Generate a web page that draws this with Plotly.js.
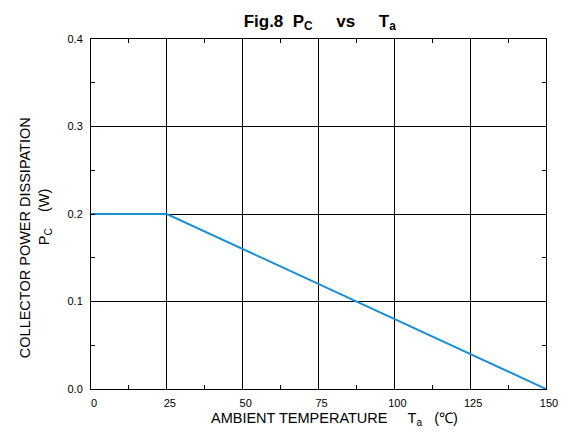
<!DOCTYPE html>
<html>
<head>
<meta charset="utf-8">
<script src="https://cdn.plot.ly/plotly-3.0.1.min.js"></script>
<style>body{margin:0;background:#fff}#chart{width:571px;height:432px}</style>
</head>
<body>
<div id="chart"></div>
<script>
const temperature = [0, 25, 150];
const powerDissipation = [0.2, 0.2, 0.0];
const xTicks = [0, 25, 50, 75, 100, 125, 150];
const yTicks = [0.0, 0.1, 0.2, 0.3, 0.4];
const yTickLabels = ['0.0', '0.1', '0.2', '0.3', '0.4'];

const nb = '\u00a0';
const font = 'Arial, "Liberation Sans", sans-serif';

Plotly.newPlot('chart', [{
  x: temperature,
  y: powerDissipation,
  mode: 'lines',
  line: {color: '#1a90d4', width: 2},
  hoverinfo: 'skip'
}], {
  width: 571, height: 432,
  margin: {l: 91, r: 25, t: 39, b: 43},
  paper_bgcolor: '#fff', plot_bgcolor: '#fff',
  showlegend: false,
  font: {family: font, color: '#000', size: 11},
  title: {
    text: '<b>Fig.8' + nb + nb + 'P<sub>C</sub>' + nb.repeat(5) + 'vs' + nb.repeat(5) + 'T<sub>a</sub></b>',
    font: {family: font, size: 17, color: '#000'},
    x: 0.56, xanchor: 'center', y: 0.952, yanchor: 'middle'
  },
  xaxis: {
    range: [0, 150], tickvals: xTicks, ticktext: xTicks.map(String),
    showgrid: true, gridcolor: '#000', gridwidth: 1,
    showline: true, linecolor: '#000', linewidth: 1, mirror: 'allticks',
    ticks: 'inside', ticklen: 0, tickcolor: '#000',
    minor: {dtick: 12.5, tick0: 0, ticks: 'inside', ticklen: 4, tickcolor: '#000', showgrid: false},
    zeroline: false, fixedrange: true,
    tickfont: {size: 11, family: font},
    ticklabelstandoff: 4, ticklabelshift: 3
  },
  yaxis: {
    range: [0, 0.4], tickvals: yTicks, ticktext: yTickLabels,
    showgrid: true, gridcolor: '#000', gridwidth: 1,
    showline: true, linecolor: '#000', linewidth: 1, mirror: 'allticks',
    ticks: 'inside', ticklen: 0, tickcolor: '#000',
    minor: {dtick: 0.05, tick0: 0, ticks: 'inside', ticklen: 4, tickcolor: '#000', showgrid: false},
    zeroline: false, fixedrange: true,
    tickfont: {size: 11, family: font},
    ticklabelstandoff: 5
  },
  annotations: [
    {
      text: 'AMBIENT TEMPERATURE' + nb.repeat(5) + 'T<sub>a</sub>' + nb.repeat(3) + '(℃)',
      xref: 'paper', yref: 'paper', x: 0.535, y: -0.0857,
      xanchor: 'center', yanchor: 'middle', showarrow: false,
      font: {size: 14.5, family: font, color: '#000'}
    },
    {
      text: 'COLLECTOR POWER DISSIPATION',
      xref: 'paper', yref: 'paper', x: -0.145, y: 0.431,
      xanchor: 'center', yanchor: 'middle', textangle: -90, showarrow: false,
      font: {size: 14.5, family: font, color: '#000'}
    },
    {
      text: 'P<sub>C</sub>' + nb.repeat(4) + '(W)',
      xref: 'paper', yref: 'paper', x: -0.101, y: 0.491,
      xanchor: 'center', yanchor: 'middle', textangle: -90, showarrow: false,
      font: {size: 14.5, family: font, color: '#000'}
    }
  ]
}, {staticPlot: true, displayModeBar: false});
</script>
</body>
</html>
